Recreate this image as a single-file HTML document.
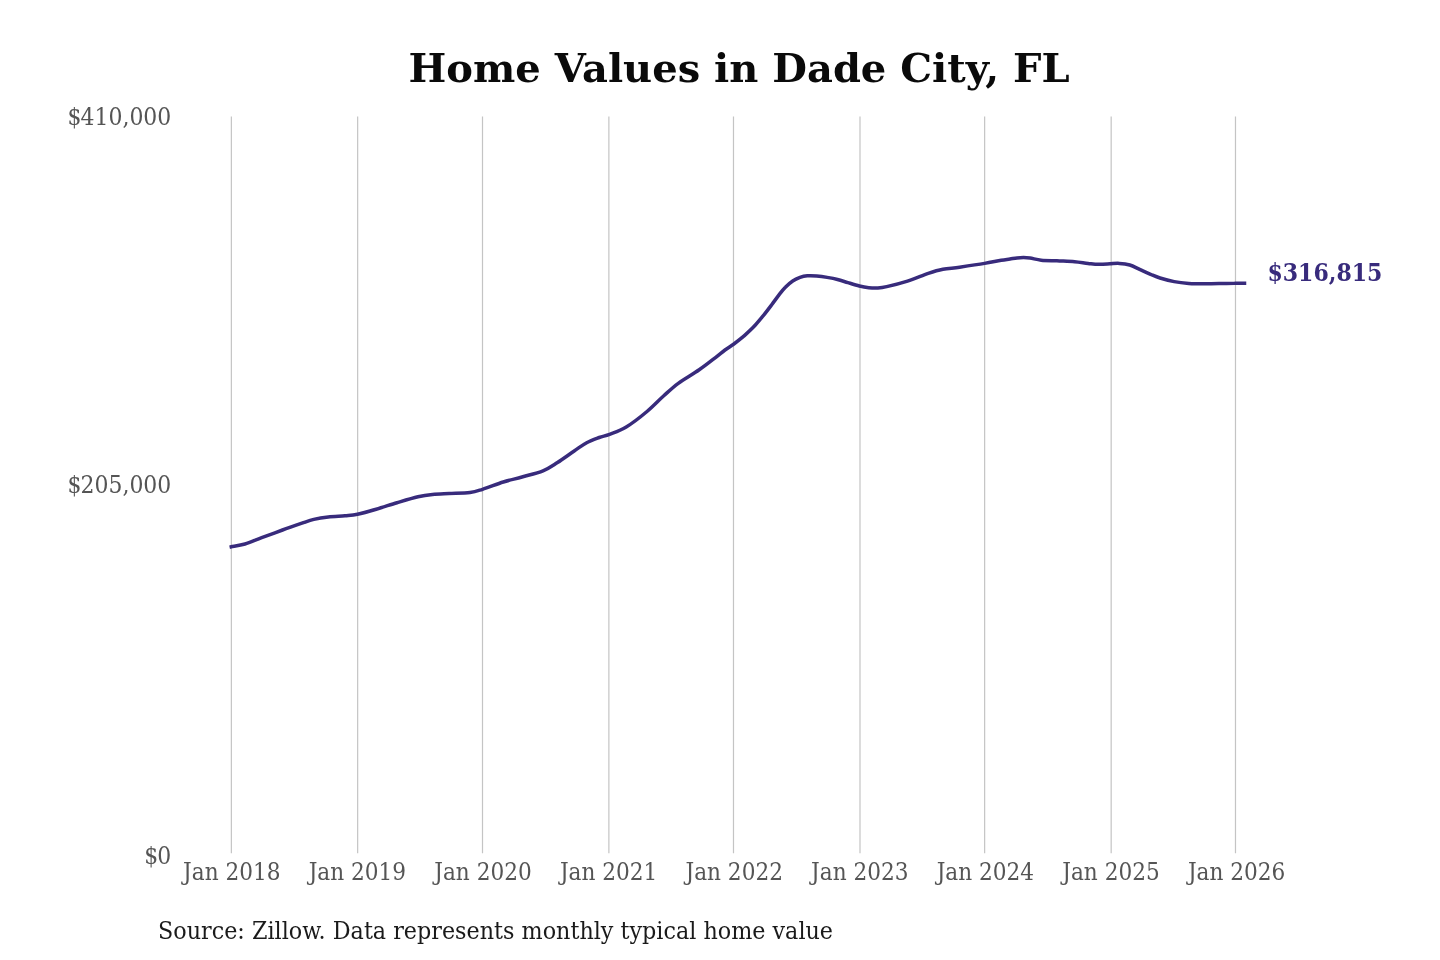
<!DOCTYPE html>
<html lang="en">
<head>
<meta charset="utf-8">
<title>Home Values in Dade City, FL</title>
<style>
html,body{margin:0;padding:0;background:#fff;}
body{width:1440px;height:960px;overflow:hidden;font-family:"DejaVu Serif","Liberation Serif",serif;}
svg{display:block;}
svg text{font-family:"DejaVu Serif","Liberation Serif",serif;}
.title{font-size:40px;font-weight:bold;fill:#0a0a0a;}
.tick{font-size:24px;fill:#555;}
.src{font-size:24.2px;fill:#1a1a1a;}
.val{font-size:23.7px;font-weight:bold;fill:#382b7c;}
.grid line{stroke:#c4c4c4;stroke-width:1.2;}
</style>
</head>
<body>
<svg width="1440" height="960" viewBox="0 0 1440 960">
<rect width="1440" height="960" fill="#ffffff"/>
<text class="title" x="739" y="81.6" text-anchor="middle">Home Values in Dade City, FL</text>
<g class="grid">
<line x1="231.36" y1="116.6" x2="231.36" y2="853.3" />
<line x1="357.66" y1="116.6" x2="357.66" y2="853.3" />
<line x1="482.50" y1="116.6" x2="482.50" y2="853.3" />
<line x1="608.88" y1="116.6" x2="608.88" y2="853.3" />
<line x1="733.49" y1="116.6" x2="733.49" y2="853.3" />
<line x1="860.00" y1="116.6" x2="860.00" y2="853.3" />
<line x1="984.64" y1="116.6" x2="984.64" y2="853.3" />
<line x1="1111.17" y1="116.6" x2="1111.17" y2="853.3" />
<line x1="1235.49" y1="116.6" x2="1235.49" y2="853.3" />
</g>
<g>
<text class="tick" transform="translate(171.30 124.60) scale(0.9150 1)" text-anchor="end">$<tspan dx="-1.1">410,000</tspan></text>
<text class="tick" transform="translate(171.30 492.50) scale(0.9150 1)" text-anchor="end">$<tspan dx="-1.1">205,000</tspan></text>
<text class="tick" transform="translate(171.30 864.00) scale(0.9150 1)" text-anchor="end">$<tspan dx="-1.1">0</tspan></text>
</g>
<g>
<text class="tick" transform="translate(231.80 879.50) scale(0.9020 1)" text-anchor="middle">Jan 2018</text>
<text class="tick" transform="translate(357.40 879.50) scale(0.9020 1)" text-anchor="middle">Jan 2019</text>
<text class="tick" transform="translate(483.00 879.50) scale(0.9020 1)" text-anchor="middle">Jan 2020</text>
<text class="tick" transform="translate(608.60 879.50) scale(0.9020 1)" text-anchor="middle">Jan 2021</text>
<text class="tick" transform="translate(734.20 879.50) scale(0.9020 1)" text-anchor="middle">Jan 2022</text>
<text class="tick" transform="translate(859.80 879.50) scale(0.9020 1)" text-anchor="middle">Jan 2023</text>
<text class="tick" transform="translate(985.40 879.50) scale(0.9020 1)" text-anchor="middle">Jan 2024</text>
<text class="tick" transform="translate(1111.00 879.50) scale(0.9020 1)" text-anchor="middle">Jan 2025</text>
<text class="tick" transform="translate(1236.60 879.50) scale(0.9020 1)" text-anchor="middle">Jan 2026</text>
</g>
<path d="M231.3 546.8 C233.6 546.3 239.9 545.5 245.0 544.0 C250.1 542.5 255.4 540.0 261.7 537.7 C267.9 535.4 275.6 532.5 282.5 530.0 C289.4 527.5 298.1 524.5 303.3 522.7 C308.5 520.9 309.6 520.4 313.8 519.4 C317.9 518.4 323.1 517.5 328.3 516.9 C333.5 516.3 340.1 516.2 345.0 515.8 C349.9 515.3 352.3 515.3 357.5 514.2 C362.7 513.1 369.7 511.1 376.2 509.2 C382.8 507.3 390.0 504.8 397.0 502.7 C404.0 500.6 412.1 498.1 418.0 496.7 C423.9 495.3 427.3 494.9 432.5 494.4 C437.7 493.9 442.8 493.8 449.0 493.5 C455.2 493.2 464.4 493.2 470.0 492.5 C475.6 491.8 476.9 491.1 482.5 489.3 C488.1 487.6 496.7 484.1 503.3 482.0 C509.9 479.9 515.4 478.9 522.0 477.0 C528.6 475.1 537.1 473.2 543.0 470.8 C548.9 468.4 552.3 465.8 557.5 462.5 C562.7 459.2 569.3 454.3 574.2 451.0 C579.1 447.7 582.5 444.9 586.7 442.7 C590.9 440.4 595.4 438.9 599.2 437.5 C603.0 436.1 605.1 436.1 609.6 434.4 C614.1 432.6 620.0 430.8 626.2 427.0 C632.5 423.2 640.8 416.7 647.0 411.5 C653.2 406.3 658.5 400.5 663.8 395.8 C669.0 391.1 672.4 387.6 678.3 383.3 C684.2 379.0 693.0 374.1 699.2 369.8 C705.5 365.5 711.5 360.6 715.8 357.3 C720.1 354.0 722.0 352.2 725.0 350.0 C728.0 347.8 730.7 346.3 733.9 344.0 C737.0 341.7 740.4 339.1 743.8 336.2 C747.1 333.2 750.9 329.8 754.2 326.3 C757.5 322.8 760.5 319.0 763.5 315.4 C766.5 311.8 769.3 308.0 771.9 304.5 C774.5 301.0 777.0 297.5 779.2 294.6 C781.5 291.7 783.1 289.6 785.4 287.3 C787.6 285.0 790.3 282.6 792.7 281.0 C795.1 279.4 797.6 278.3 800.0 277.4 C802.4 276.5 804.5 276.0 807.3 275.8 C810.1 275.6 813.4 275.7 816.7 276.0 C820.0 276.3 823.6 276.8 827.1 277.4 C830.6 278.0 834.0 278.6 837.5 279.5 C841.0 280.4 844.2 281.5 847.9 282.6 C851.5 283.7 855.9 285.1 859.4 286.0 C862.9 286.9 865.8 287.4 868.8 287.7 C871.7 288.0 874.0 288.2 877.0 288.0 C880.0 287.8 881.6 287.8 886.7 286.6 C891.8 285.5 900.6 283.3 907.5 281.1 C914.4 278.9 922.4 275.4 928.3 273.4 C934.2 271.4 937.7 270.3 942.9 269.3 C948.1 268.3 952.6 268.2 959.6 267.2 C966.6 266.2 977.7 264.6 984.6 263.4 C991.5 262.2 997.0 260.9 1001.2 260.2 C1005.5 259.5 1007.4 259.4 1010.0 259.0 C1012.6 258.6 1014.8 258.1 1017.0 257.9 C1019.2 257.7 1021.3 257.6 1023.5 257.6 C1025.7 257.6 1027.0 257.7 1030.0 258.1 C1033.0 258.5 1036.8 259.8 1041.2 260.2 C1045.7 260.6 1051.3 260.6 1056.9 260.8 C1062.5 261.1 1069.4 261.3 1074.6 261.7 C1079.8 262.1 1084.1 263.0 1088.1 263.4 C1092.1 263.8 1094.8 264.2 1098.5 264.3 C1102.2 264.4 1106.5 264.0 1110.0 263.8 C1113.5 263.6 1116.1 263.2 1119.4 263.4 C1122.7 263.6 1126.3 264.0 1129.8 265.0 C1133.3 266.0 1136.7 268.1 1140.2 269.6 C1143.7 271.2 1147.3 272.9 1150.6 274.3 C1153.9 275.7 1156.1 276.8 1160.0 278.0 C1163.9 279.2 1169.4 280.7 1174.2 281.6 C1179.0 282.5 1183.5 283.0 1188.8 283.4 C1194.0 283.8 1200.2 283.8 1205.4 283.8 C1210.6 283.8 1215.1 283.7 1220.0 283.6 C1224.9 283.5 1230.5 283.2 1234.6 283.2 C1238.7 283.1 1242.8 283.3 1244.5 283.3" fill="none" stroke="#382b7c" stroke-width="3.5" stroke-linejoin="round" stroke-linecap="square"/>
<text class="val" transform="translate(1267.40 280.60) scale(0.9305 1)" text-anchor="start">$316,815</text>
<text class="src" transform="translate(158.00 938.90) scale(0.9210 1)" text-anchor="start">Source: Zillow. Data represents monthly typical home value</text>
</svg>
</body>
</html>
